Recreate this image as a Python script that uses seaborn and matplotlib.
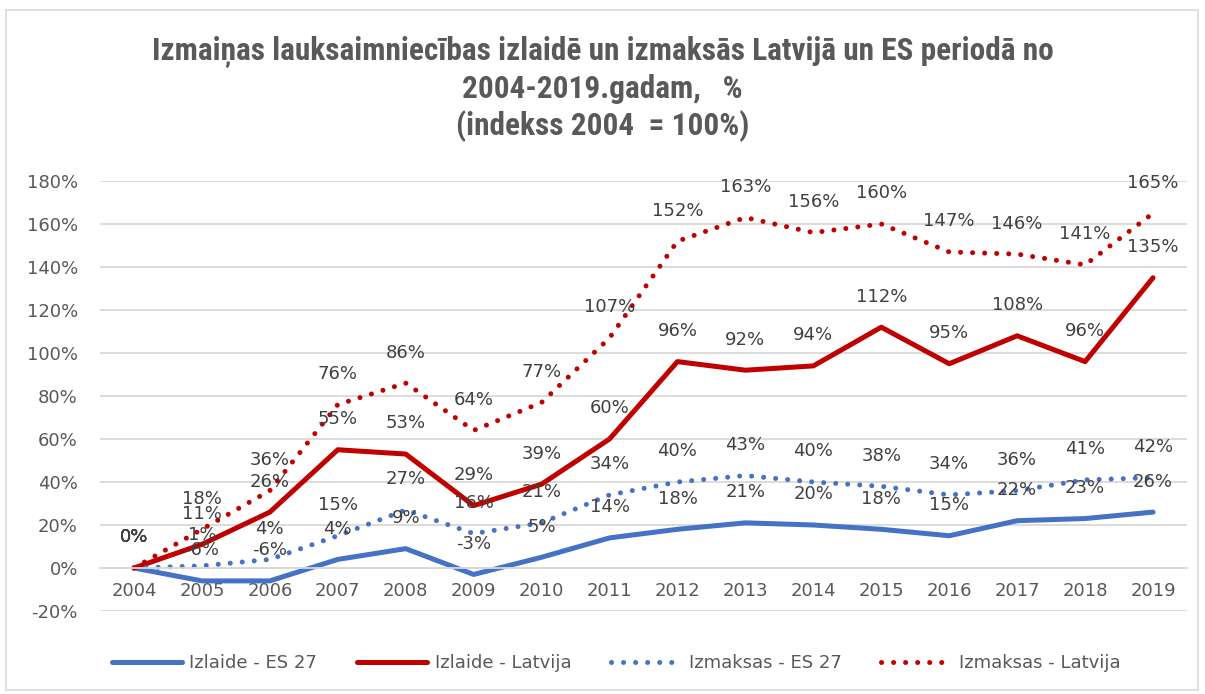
import numpy as np
import pandas as pd
import matplotlib
matplotlib.use("Agg")
import matplotlib.pyplot as plt
import seaborn as sns
from matplotlib import font_manager
from matplotlib.patches import Rectangle

years = [2004, 2005, 2006, 2007, 2008, 2009, 2010, 2011, 2012, 2013, 2014, 2015, 2016, 2017, 2018, 2019]
izlaide_es27 = [0, -6, -6, 4, 9, -3, 5, 14, 18, 21, 20, 18, 15, 22, 23, 26]
izlaide_lv = [0, 11, 26, 55, 53, 29, 39, 60, 96, 92, 94, 112, 95, 108, 96, 135]
izmaksas_es27 = [0, 1, 4, 15, 27, 16, 21, 34, 40, 43, 40, 38, 34, 36, 41, 42]
izmaksas_lv = [0, 18, 36, 76, 86, 64, 77, 107, 152, 163, 156, 160, 147, 146, 141, 165]
series_names = ["Izlaide - ES 27", "Izlaide - Latvija", "Izmaksas - ES 27", "Izmaksas - Latvija"]
yticks = [-20, 0, 20, 40, 60, 80, 100, 120, 140, 160, 180]
title = "Izmaiņas lauksaimniecības izlaidē un izmaksās Latvijā un ES periodā no\n2004-2019.gadam,   %\n(indekss 2004  = 100%)"

sns.set_theme(style="white")
avail = {f.name for f in font_manager.fontManager.ttflist}
body_font = "DejaVu Sans"
title_font = "Lato" if "Lato" in avail else "DejaVu Sans"
title_size = 17
for cand in ["Liberation Sans Narrow", "Roboto Condensed", "Open Sans Condensed"]:
    if cand in avail:
        title_font = cand
        title_size = 22.5
        break
plt.rcParams["font.family"] = [body_font]

fig = plt.figure(figsize=(12.05, 6.94), dpi=100)
fig.patches.append(Rectangle((6 / 1205, 4 / 694), 1192 / 1205, 680 / 694, transform=fig.transFigure,
                             fill=False, edgecolor="#D9D9D9", linewidth=1.2))
ax = fig.add_axes([100 / 1205, 1 - 611 / 694, 1087 / 1205, 430 / 694])

blue = "#4472C4"
red = "#C00000"
data = [izlaide_es27, izlaide_lv, izmaksas_es27, izmaksas_lv]
colors = [blue, red, blue, red]
styles = ["-", "-", (0, (0.01, 2.4)), (0, (0.01, 2.4))]

for vals, name, col, ls in zip(data, series_names, colors, styles):
    df = pd.DataFrame({"year": years, "value": vals})
    sns.lineplot(data=df, x="year", y="value", ax=ax, color=col, linewidth=3.6,
                 linestyle=ls, label=name, sort=False, dash_capstyle="round",
                 solid_capstyle="round")
    for x, v in zip(years, vals):
        ax.annotate(f"{v}%", (x, v), xytext=(0, 22), textcoords="offset points",
                    ha="center", va="center", fontsize=13, color="#404040")

ax.set_xlim(2003.5, 2019.5)
ax.set_ylim(-20, 180)
ax.set_yticks(yticks)
ax.set_yticklabels([f"{t}%" for t in yticks])
ax.set_xticks(years)
ax.set_xticklabels([str(y) for y in years])
ax.grid(axis="y", color="#D9D9D9", linewidth=1.3)
ax.set_axisbelow(True)
for s in ["top", "right", "left"]:
    ax.spines[s].set_visible(False)
ax.spines["bottom"].set_position(("data", 0))
ax.spines["bottom"].set_color("#D9D9D9")
ax.spines["bottom"].set_linewidth(1.3)
ax.tick_params(axis="both", length=0, labelsize=13, colors="#595959")
ax.tick_params(axis="y", pad=16)
ax.tick_params(axis="x", pad=10)
ax.set_xlabel("")
ax.set_ylabel("")

handles, labels = ax.get_legend_handles_labels()
ax.get_legend().remove()
fig.legend(handles, labels, loc="center", bbox_to_anchor=(616 / 1205, 1 - 663 / 694), ncol=4,
           frameon=False, fontsize=13, handlelength=3.9, handletextpad=0.4, columnspacing=2.2,
           labelcolor="#595959")

fig.text(0.5, 1 - 89 / 694, title, ha="center", va="center", fontsize=title_size, fontweight="bold",
         color="#595959", family=title_font, linespacing=1.25)

fig.savefig("out.png", dpi=100)
